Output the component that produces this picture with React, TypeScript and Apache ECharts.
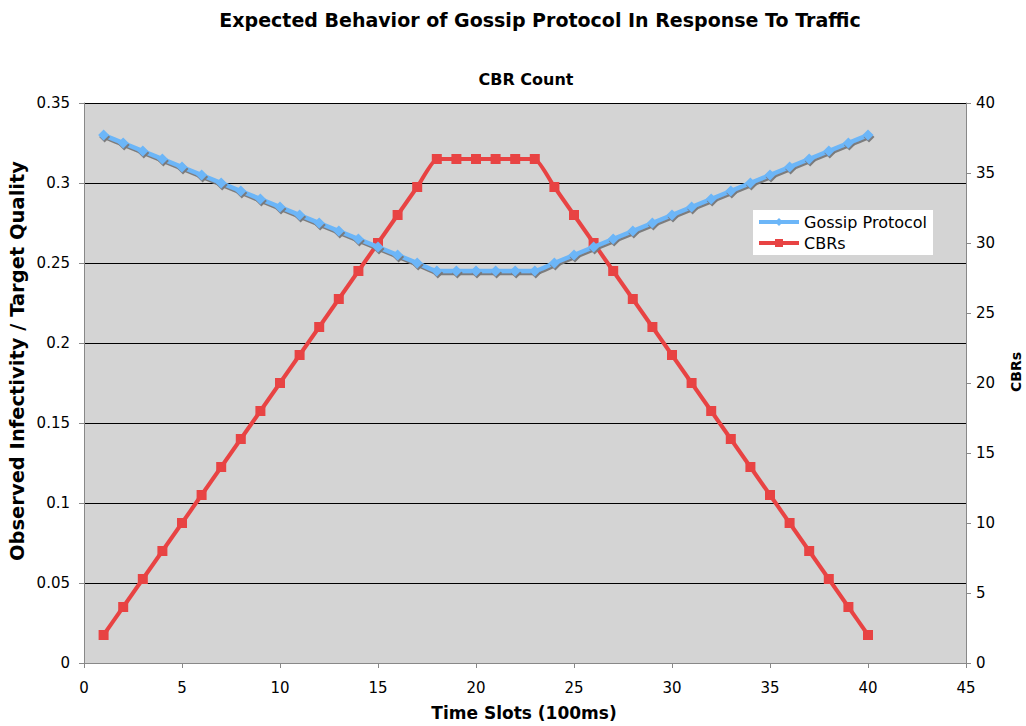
import React, { useEffect, useRef } from "react";
import * as echarts from "echarts";

const timeSlots = [1,2,3,4,5,6,7,8,9,10,11,12,13,14,15,16,17,18,19,20,21,22,23,24,25,26,27,28,29,30,31,32,33,34,35,36,37,38,39,40];
const gossip = [0.33,0.325,0.32,0.315,0.31,0.305,0.3,0.295,0.29,0.285,0.28,0.275,0.27,0.265,0.26,0.255,0.25,0.245,0.245,0.245,0.245,0.245,0.245,0.25,0.255,0.26,0.265,0.27,0.275,0.28,0.285,0.29,0.295,0.3,0.305,0.31,0.315,0.32,0.325,0.33];
const cbrs = [2,4,6,8,10,12,14,16,18,20,22,24,26,28,30,32,34,36,36,36,36,36,36,34,32,30,28,26,24,22,20,18,16,14,12,10,8,6,4,2];

const FONT = "DejaVu Sans";
const BLUE = "#6cb6f8";
const RED = "#e84343";

export default function App() {
  const ref = useRef<HTMLDivElement>(null);
  useEffect(() => {
    if (!ref.current) return;
    const chart = echarts.init(ref.current, undefined, { renderer: "svg" });
    const shadow = {
      shadowColor: "rgba(120,120,120,0.95)",
      shadowBlur: 0,
      shadowOffsetX: 1,
      shadowOffsetY: 2,
    };
    chart.setOption({
      animation: false,
      backgroundColor: "#ffffff",
      textStyle: { fontFamily: FONT },
      title: [
        {
          text: "Expected Behavior of Gossip Protocol In Response To Traffic",
          left: 535,
          textAlign: "center",
          top: 5,
          textStyle: { fontFamily: FONT, fontWeight: "bold", fontSize: 19, color: "#000" },
        },
        {
          text: "CBR Count",
          left: 521,
          textAlign: "center",
          top: 66,
          textStyle: { fontFamily: FONT, fontWeight: "bold", fontSize: 16, color: "#000" },
        },
      ],
      graphic: [
        {
          type: "text",
          x: 17,
          y: 361,
          rotation: Math.PI / 2,
          style: {
            text: "Observed Infectivity / Target Quality",
            fontFamily: FONT,
            fontWeight: "bold",
            fontSize: 19.5,
            fill: "#000",
            align: "center",
            verticalAlign: "middle",
          },
        },
        {
          type: "text",
          x: 1016,
          y: 372,
          rotation: Math.PI / 2,
          style: {
            text: "CBRs",
            fontFamily: FONT,
            fontWeight: "bold",
            fontSize: 14,
            fill: "#000",
            align: "center",
            verticalAlign: "middle",
          },
        },
        {
          type: "text",
          x: 524,
          y: 713,
          style: {
            text: "Time Slots (100ms)",
            fontFamily: FONT,
            fontWeight: "bold",
            fontSize: 17,
            fill: "#000",
            align: "center",
            verticalAlign: "middle",
          },
        },
      ],
      legend: {
        left: 753,
        top: 210,
        orient: "vertical",
        backgroundColor: "#ffffff",
        padding: [4, 6, 4, 4],
        itemGap: 5,
        itemWidth: 40,
        itemHeight: 10,
        lineStyle: { width: 4 },
        textStyle: { fontFamily: FONT, fontSize: 16, color: "#000" },
        data: ["Gossip Protocol", "CBRs"],
      },
      grid: { left: 84, right: 60, top: 103, bottom: 63, backgroundColor: "#d4d4d4", show: true, borderWidth: 0 },
      xAxis: {
        type: "value",
        min: 0,
        max: 45,
        interval: 5,
        axisLine: { lineStyle: { color: "#888", width: 1 } },
        axisTick: { show: true, length: 5, lineStyle: { color: "#888" } },
        axisLabel: { fontFamily: FONT, fontSize: 15, color: "#000", margin: 17 },
        splitLine: { show: false },
      },
      yAxis: [
        {
          type: "value",
          min: 0,
          max: 0.35,
          interval: 0.05,
          axisLine: { show: true, lineStyle: { color: "#888", width: 1 } },
          axisTick: { show: true, length: 5, lineStyle: { color: "#888" } },
          axisLabel: { fontFamily: FONT, fontSize: 15, color: "#000", margin: 14 },
          splitLine: { show: true, lineStyle: { color: "#000", width: 1 } },
        },
        {
          type: "value",
          min: 0,
          max: 40,
          interval: 5,
          position: "right",
          axisLine: { show: true, lineStyle: { color: "#888", width: 1 } },
          axisTick: { show: true, length: 5, lineStyle: { color: "#888" } },
          axisLabel: { fontFamily: FONT, fontSize: 15, color: "#000", margin: 10 },
          splitLine: { show: false },
        },
      ],
      series: [
        {
          name: "CBRs",
          type: "line",
          yAxisIndex: 1,
          data: timeSlots.map((t, i) => [t, cbrs[i]]),
          smooth: 0.15,
          symbol: "rect",
          symbolSize: 10,
          color: RED,
          lineStyle: { width: 4, color: RED },
          itemStyle: { color: RED },
          z: 2,
        },
        {
          name: "Gossip Protocol",
          type: "line",
          yAxisIndex: 0,
          data: timeSlots.map((t, i) => [t, gossip[i]]),
          smooth: 0.15,
          symbol: "diamond",
          symbolSize: 11,
          color: BLUE,
          lineStyle: { width: 4.5, color: BLUE, ...shadow },
          itemStyle: { color: BLUE, ...shadow },
          z: 3,
        },
      ],
    });
    return () => chart.dispose();
  }, []);
  return (
    <div
      ref={ref}
      style={{ position: "fixed", left: 0, top: 0, width: 1026, height: 726 }}
    />
  );
}
